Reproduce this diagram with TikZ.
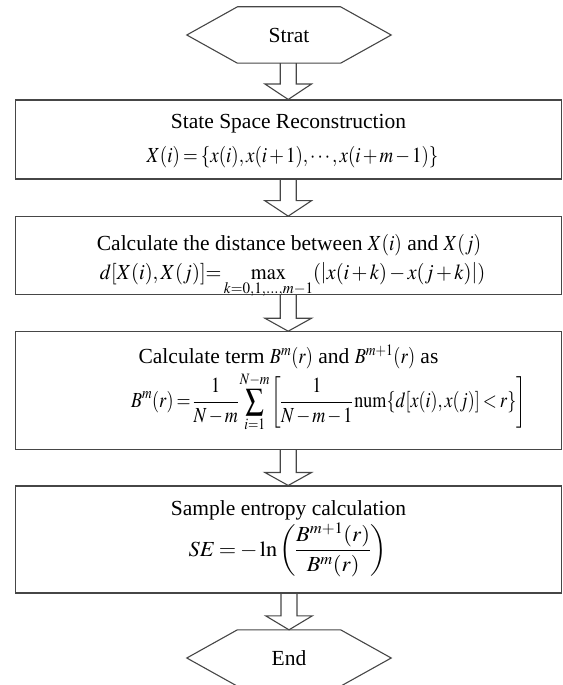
\documentclass[tikz,border=0pt]{standalone}
\usepackage{graphicx}
\usepackage{mathptmx}
\usepackage[no-math]{fontspec}
\setmainfont{Liberation Serif}
\usetikzlibrary{calc}
\definecolor{edge}{RGB}{70,70,70}
\newcommand\tightmath{\medmuskip=2mu plus 1mu\thickmuskip=3mu plus 1mu\thinmuskip=2mu\nulldelimiterspace=0pt}
\newcommand\mth[2]{\scalebox{#1}[1]{$#2$}}
\tikzset{
  line/.style={draw=edge, line width=1.1pt, line join=miter},
  stepbox/.style={line, rectangle, minimum width=546pt, inner sep=0pt},
  hexbox/.style={rectangle, minimum width=204pt, minimum height=56pt, inner sep=0pt},
  txt/.style={font=\fontsize{21.5}{25}\selectfont\tightmath, inner sep=0pt, text=black},
}
\newcommand\hexdraw[1]{%
  \draw[line] (#1.west) -- ($(#1.north west)+(50.6pt,0)$) -- ($(#1.north east)+(-50.6pt,0)$)
    -- (#1.east) -- ($(#1.south east)+(-50.6pt,0)$) -- ($(#1.south west)+(50.6pt,0)$) -- cycle;}
\newcommand\blockarrow[3]{% from, to, head length
  \draw[line] let \p1=(#1.south), \p2=(#2.north) in
    (\x2-8pt,\y1) -- (\x2-8pt,\y2+#3) -- (\x2-23.4pt,\y2+#3) -- (\x2,\y2)
    -- (\x2+23.4pt,\y2+#3) -- (\x2+8pt,\y2+#3) -- (\x2+8pt,\y1);}
\begin{document}
\begin{tikzpicture}[x=1pt,y=-1pt]
\useasboundingbox (0,0) rectangle (562,685);
\clip (0,0) rectangle (562,685);
% shapes
\node[hexbox] (start) at (289,35) {};
\hexdraw{start}
\node[txt] (tstart) at (289,35) {Strat};

\node[stepbox, minimum height=79pt] (b1) at (288.2,139.5) {};
\node[txt] (b1a) at (288.5,124) {State Space Reconstruction};
\node[txt] (b1b) at (292.5,157) {\mth{0.88}{X(i)=\{x(i),x(i+1),\cdots,x(i+m-1)\}}};

\node[stepbox, minimum height=77.6pt] (b2) at (288.2,255.5) {};
\node[txt] (b2a) at (289,245) {Calculate the distance between \mth{0.9}{X(i)} and \mth{0.9}{X(j)}};
\node[txt] (b2b) at (292.5,281) {\mth{0.95}{d[X(i),X(j)]{=}\max\limits_{k=0,1,\ldots,m-1}(\left|x(i+k)-x(j+k)\right|)}};

\node[stepbox, minimum height=117.3pt] (b3) at (288.2,390.4) {};
\node[txt] (b3a) at (288.5,357) {Calculate term \mth{0.85}{B^{m}(r)} and \mth{0.85}{B^{m+1}(r)} as};
\node[txt] (b3b) at (328.5,402) {\mth{0.84}{\displaystyle B^{m}(r)=\frac{1}{N-m}\sum_{i=1}^{N-m}\left[\frac{1}{N-m-1}\,\mathrm{num}\{d[x(i),x(j)]<r\}\right]}};

\node[stepbox, minimum height=107pt] (b4) at (288.2,539.5) {};
\node[txt] (b4a) at (288.5,510) {Sample entropy calculation};
\node[txt] (b4b) at (287.5,550) {\mth{1.04}{\displaystyle SE=-\ln\left(\frac{B^{m+1}(r)}{B^{m}(r)}\right)}};

\node[hexbox] (end) at (289,658) {};
\hexdraw{end}
\node[txt] (tend) at (289,658) {End};

% arrows
\blockarrow{start}{b1}{15.5pt}
\blockarrow{b1}{b2}{15.5pt}
\blockarrow{b2}{b3}{13pt}
\blockarrow{b3}{b4}{13pt}
\blockarrow{b4}{end}{14pt}
\end{tikzpicture}
\end{document}
